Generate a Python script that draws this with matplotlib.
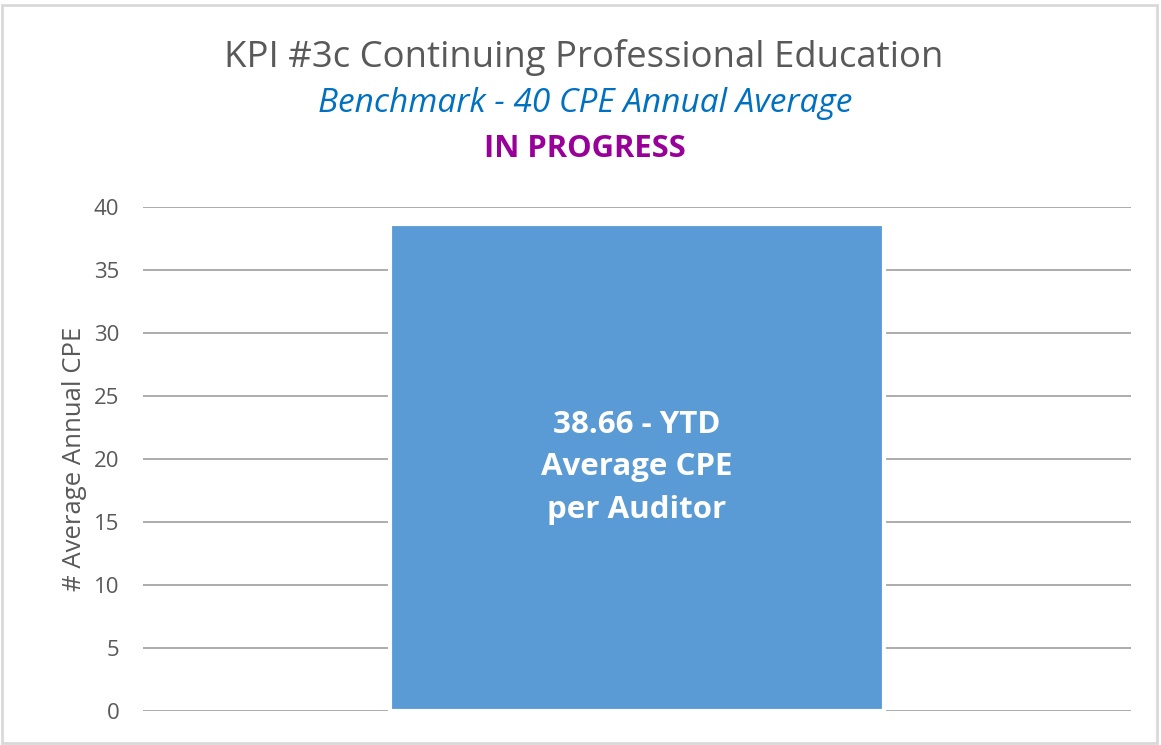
import matplotlib
matplotlib.use("Agg")
import matplotlib.pyplot as plt
from matplotlib.patches import Rectangle

categories = ["YTD"]
values = [38.66]
bar_label = "38.66 - YTD\nAverage CPE\nper Auditor"
yticks = [0, 5, 10, 15, 20, 25, 30, 35, 40]

title = "KPI #3c Continuing Professional Education"
subtitle = "Benchmark - 40 CPE Annual Average"
status = "IN PROGRESS"
ylabel = "# Average Annual CPE"

FONT = ["Open Sans", "DejaVu Sans"]
plt.rcParams['font.family'] = FONT

fig = plt.figure(figsize=(11.61, 7.45), dpi=100)
ax = fig.add_axes([143/1161, 1-711/745, (1131-143)/1161, (711-207)/745])

ax.bar(range(len(categories)), values, width=0.5, color="#5B9BD5",
       edgecolor="white", linewidth=3, zorder=3)
ax.set_xlim(-0.5, 0.5)
ax.set_ylim(0, 40)
ax.set_yticks(yticks)
ax.set_xticks([])
ax.tick_params(axis='y', length=0, pad=17, labelsize=16, labelcolor="#595959")
ax.yaxis.grid(True, color="#A6A6A6", linewidth=1.3, zorder=0)
ax.set_axisbelow(True)
for s in ax.spines.values():
    s.set_visible(False)
ax.set_ylabel(ylabel, fontsize=18.5, color="#595959", labelpad=5)

for i, v in enumerate(values):
    ax.text(i, v/2, bar_label, ha="center", va="center", color="white",
            fontsize=22.5, fontweight="bold", linespacing=1.55, zorder=4)

fig.text(584/1161, 1-57/745, title, ha="center", va="center", fontsize=26.3, color="#595959")
fig.text(585/1161, 1-103/745, subtitle, ha="center", va="center", fontsize=24,
         color="#0070C0", style="italic")
fig.text(585/1161, 1-149/745, status, ha="center", va="center", fontsize=22.3,
         color="#990099", fontweight="bold")

fig.patches.append(Rectangle((2/1161, 2/745), 1155/1161, 738/745, transform=fig.transFigure,
                             fill=False, edgecolor="#D9D9D9", linewidth=2))

fig.savefig("out.png", dpi=100)
